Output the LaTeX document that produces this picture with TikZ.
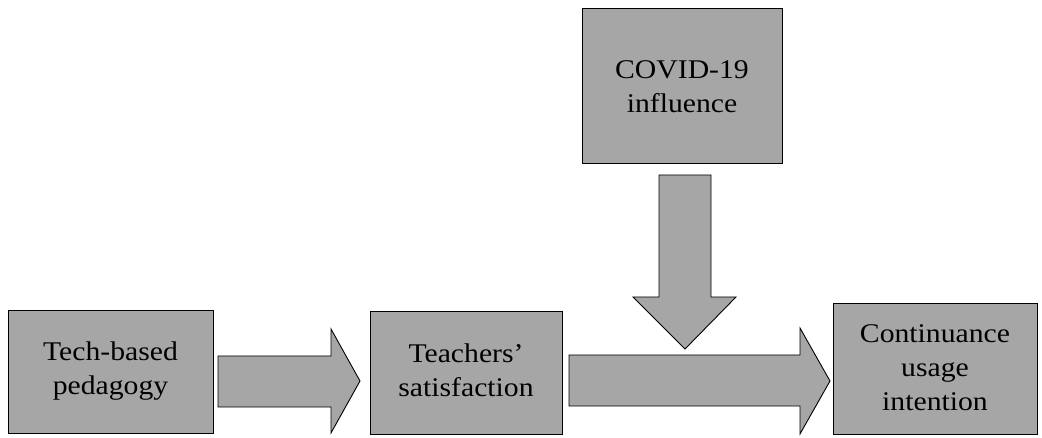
\documentclass[tikz,border=0pt]{standalone}
\usepackage{fontspec}
\setmainfont{Liberation Serif}[FakeStretch=1.1]
\begin{document}
\begin{tikzpicture}[x=1pt,y=-1pt,
  blk/.style={draw=black,line width=0.9pt,fill=boxgray},
  lbl/.style={align=center,font=\fontsize{27}{34}\selectfont,inner sep=0pt}]
\definecolor{boxgray}{HTML}{A6A6A6}
\useasboundingbox (0,0) rectangle (1042,438);
% boxes
\draw[blk] (8,310) rectangle (213,433);
\node[lbl] (tech) at (110.5,371) {Tech-based\\pedagogy};
\draw[blk] (370,311) rectangle (562,434);
\node[lbl] (sat) at (466,370) {Teachers’\\satisfaction};
\draw[blk] (833,303) rectangle (1037,434);
\node[lbl] (cont) at (935,368) {Continuance\\usage\\intention};
\draw[blk] (582,8) rectangle (782,163);
\node[lbl] (covid) at (682,87) {COVID-19\\influence};
% block arrows
\draw[blk,line join=miter] (218,356) -- (331,356) -- (331,329) -- (360,381) -- (331,433) -- (331,407) -- (218,407) -- cycle;
\draw[blk,line join=miter] (569,355) -- (800,355) -- (800,328) -- (830,381) -- (800,434) -- (800,406) -- (569,406) -- cycle;
\draw[blk,line join=miter] (659,175) -- (711,175) -- (711,297) -- (736,297) -- (685,349) -- (633,297) -- (659,297) -- cycle;
\end{tikzpicture}
\end{document}
